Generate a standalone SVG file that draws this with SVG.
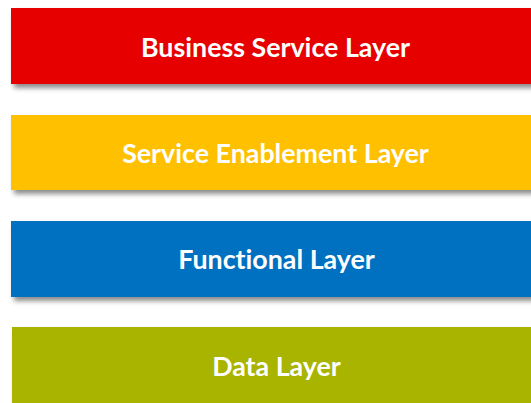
<svg xmlns="http://www.w3.org/2000/svg" width="531" height="403" viewBox="0 0 531 403">
<style>
.lbl{font-family:Lato,"Liberation Sans",sans-serif;font-weight:bold;font-size:26.8px;fill:#fff;text-anchor:middle;dominant-baseline:central;font-variant-ligatures:none}
.box{filter:url(#sh)}
</style>
<defs>
<filter id="sh" x="-10%" y="-30%" width="130%" height="170%">
<feDropShadow dx="3" dy="4" stdDeviation="2.5" flood-color="#000" flood-opacity="0.45"/>
</filter>
</defs>
<rect width="531" height="403" fill="#fff"/>
<g id="business-service-layer">
<rect class="box" x="11" y="8" width="535" height="76" fill="#E60000"/>
<text class="lbl" x="275.5" y="47">Business Service Layer</text>
</g>
<g id="service-enablement-layer">
<rect class="box" x="11" y="115" width="535" height="75" fill="#FFC000"/>
<text class="lbl" x="275.5" y="153">Service Enablement Layer</text>
</g>
<g id="functional-layer">
<rect class="box" x="11" y="221" width="535" height="76" fill="#0070C0"/>
<text class="lbl" x="276.5" y="259">Functional Layer</text>
</g>
<g id="data-layer">
<rect class="box" x="12" y="327" width="535" height="90" fill="#A8B400"/>
<text class="lbl" x="276.5" y="366">Data Layer</text>
</g>
<g id="connectors"/>
</svg>
